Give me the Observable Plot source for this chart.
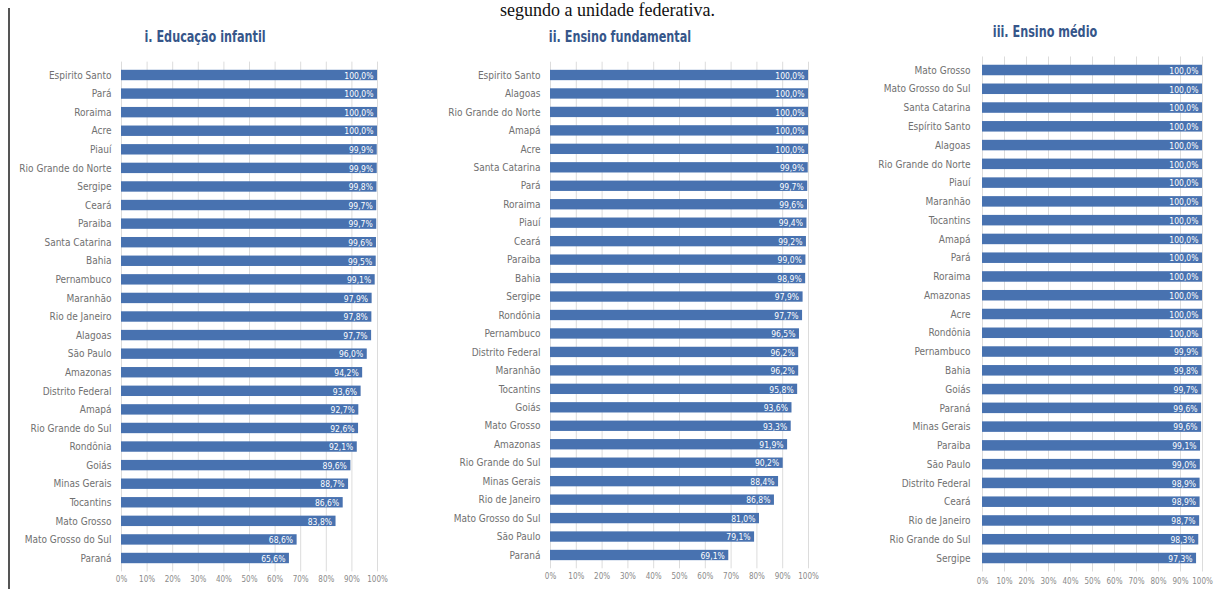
<!DOCTYPE html>
<html>
<head>
<meta charset="utf-8">
<script src="https://cdn.jsdelivr.net/npm/d3@7"></script>
<script src="https://cdn.jsdelivr.net/npm/@observablehq/plot@0.6"></script>
<style>
  html, body { margin: 0; padding: 0; background: #ffffff; }
  #root { position: relative; width: 1215px; height: 589px; overflow: hidden; background: #fff; }
  .panel { position: absolute; }
  .title { position: absolute; transform: translateX(-50%) scaleX(0.78); transform-origin: center; white-space: nowrap;
           font-family: "DejaVu Sans Condensed", "Roboto", sans-serif;
           font-weight: bold; font-size: 16px; color: #36568a; }
  .header { position: absolute; left: 0; width: 1215px; text-align: center; top: 0px;
            font-family: "Liberation Serif", "DejaVu Serif", serif; font-size: 18px; line-height: 20px; color: #111; }
  .rule { position: absolute; left: 8px; top: 8px; width: 2px; height: 581px; background: #555; }
</style>
</head>
<body>
<div id="root">
  <div class="header">segundo a unidade federativa.</div>
  <div class="rule"></div>
</div>
<script>
// ---- Data ----
const xTicks = [0, 10, 20, 30, 40, 50, 60, 70, 80, 90, 100];

const infantilTitle = "i. Educação infantil";
const infantilStates = ["Espirito Santo", "Pará", "Roraima", "Acre", "Piauí", "Rio Grande do Norte", "Sergipe", "Ceará", "Paraiba", "Santa Catarina", "Bahia", "Pernambuco", "Maranhão", "Rio de Janeiro", "Alagoas", "São Paulo", "Amazonas", "Distrito Federal", "Amapá", "Rio Grande do Sul", "Rondônia", "Goiás", "Minas Gerais", "Tocantins", "Mato Grosso", "Mato Grosso do Sul", "Paraná"];
const infantilValues = [100.0, 100.0, 100.0, 100.0, 99.9, 99.9, 99.8, 99.7, 99.7, 99.6, 99.5, 99.1, 97.9, 97.8, 97.7, 96.0, 94.2, 93.6, 92.7, 92.6, 92.1, 89.6, 88.7, 86.6, 83.8, 68.6, 65.6];

const fundamentalTitle = "ii. Ensino fundamental";
const fundamentalStates = ["Espirito Santo", "Alagoas", "Rio Grande do Norte", "Amapá", "Acre", "Santa Catarina", "Pará", "Roraima", "Piauí", "Ceará", "Paraiba", "Bahia", "Sergipe", "Rondônia", "Pernambuco", "Distrito Federal", "Maranhão", "Tocantins", "Goiás", "Mato Grosso", "Amazonas", "Rio Grande do Sul", "Minas Gerais", "Rio de Janeiro", "Mato Grosso do Sul", "São Paulo", "Paraná"];
const fundamentalValues = [100.0, 100.0, 100.0, 100.0, 100.0, 99.9, 99.7, 99.6, 99.4, 99.2, 99.0, 98.9, 97.9, 97.7, 96.5, 96.2, 96.2, 95.8, 93.6, 93.3, 91.9, 90.2, 88.4, 86.8, 81.0, 79.1, 69.1];

const medioTitle = "iii. Ensino médio";
const medioStates = ["Mato Grosso", "Mato Grosso do Sul", "Santa Catarina", "Espírito Santo", "Alagoas", "Rio Grande do Norte", "Piauí", "Maranhão", "Tocantins", "Amapá", "Pará", "Roraima", "Amazonas", "Acre", "Rondônia", "Pernambuco", "Bahia", "Goiás", "Paraná", "Minas Gerais", "Paraiba", "São Paulo", "Distrito Federal", "Ceará", "Rio de Janeiro", "Rio Grande do Sul", "Sergipe"];
const medioValues = [100.0, 100.0, 100.0, 100.0, 100.0, 100.0, 100.0, 100.0, 100.0, 100.0, 100.0, 100.0, 100.0, 100.0, 100.0, 99.9, 99.8, 99.7, 99.6, 99.6, 99.1, 99.0, 98.9, 98.9, 98.7, 98.3, 97.3];

// ---- Layout ----
const FONT = "'DejaVu Sans Condensed', 'Roboto', sans-serif";
const BAR = "#4872b0";
const SVG_TOP = 45, SVG_H = 544, PAD = 0.44;
const fmt = v => v.toFixed(1).replace(".", ",") + "%";

function panel(states, values, title, g) {
  const n = states.length;
  const step = (g.yLast - g.yFirst) / (n - 1);
  const rangeTop = g.yFirst - step * (1 + PAD) / 2 - SVG_TOP;
  const rangeH = step * (n + PAD);
  const marginTop = rangeTop;
  const marginBottom = SVG_H - rangeTop - rangeH;
  const marginLeft = g.x0 - g.left;
  const marginRight = g.left + g.width - g.x100;
  const data = states.map((s, i) => ({state: s, value: values[i]}));

  const chart = Plot.plot({
    width: g.width, height: SVG_H,
    marginTop, marginBottom, marginLeft, marginRight,
    style: {fontFamily: FONT, background: "transparent", overflow: "visible"},
    x: {domain: [0, 100], label: null},
    y: {domain: states, label: null, padding: PAD, round: false},
    marks: [
      Plot.gridX(xTicks, {stroke: "#dcdcdc", strokeOpacity: 1, strokeWidth: 1}),
      Plot.barX(data, {x: "value", y: "state", fill: BAR}),
      Plot.text(data, {x: "value", y: "state", text: d => fmt(d.value), textAnchor: "end", dx: -4, dy: 0.5, fill: "#ffffff", fontSize: 8.5}),
      Plot.axisY({tickSize: 0, tickPadding: g.labelPad, fontSize: 10, color: "#707070", fontFamily: FONT}),
      Plot.axisX({ticks: xTicks, tickFormat: d => d + "%", tickSize: 0, tickPadding: g.tickPad, fontSize: 8, color: "#8a8a8a", fontFamily: FONT})
    ]
  });
  const div = document.createElement("div");
  div.className = "panel";
  div.style.left = g.left + "px";
  div.style.top = SVG_TOP + "px";
  div.appendChild(chart);
  const root = document.getElementById("root");
  root.appendChild(div);

  const t = document.createElement("div");
  t.className = "title";
  t.textContent = title;
  t.style.left = g.titleX + "px";
  t.style.top = (g.titleY - 10) + "px";
  root.appendChild(t);
}

panel(infantilStates, infantilValues, infantilTitle,
  {left: 0, width: 400, x0: 121, x100: 377, yFirst: 75, yLast: 558, labelPad: 10, tickPad: 4, titleX: 205, titleY: 37});
panel(fundamentalStates, fundamentalValues, fundamentalTitle,
  {left: 420, width: 410, x0: 550, x100: 808, yFirst: 75, yLast: 555, labelPad: 10, tickPad: 5, titleX: 620, titleY: 37});
panel(medioStates, medioValues, medioTitle,
  {left: 850, width: 365, x0: 982, x100: 1202, yFirst: 70, yLast: 558, labelPad: 12, tickPad: 6, titleX: 1045, titleY: 32});
</script>
</body>
</html>
